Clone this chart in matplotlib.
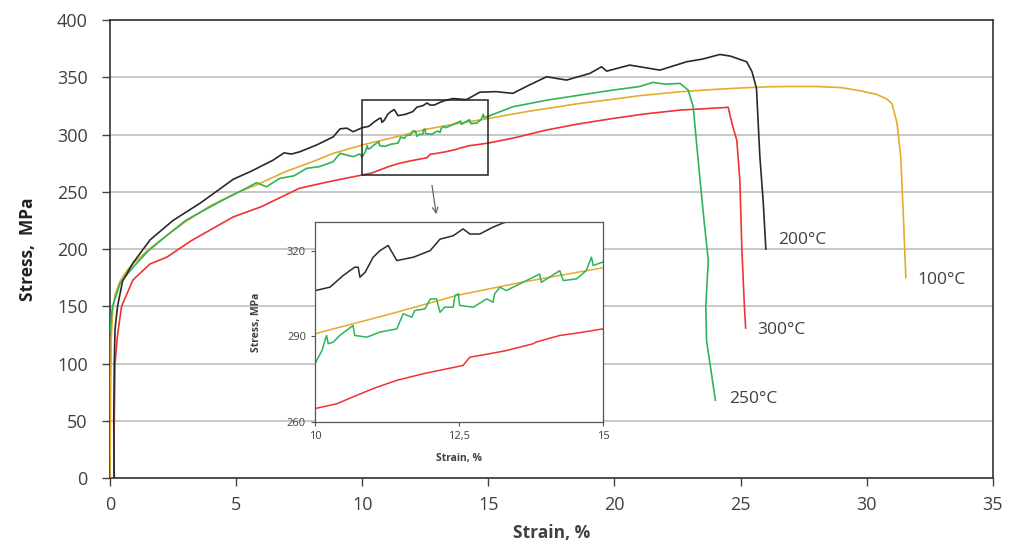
import matplotlib

matplotlib.use("Agg")
import matplotlib.pyplot as plt  # noqa: E402
from matplotlib.patches import Rectangle  # noqa: E402

# ---- data (strain %, stress MPa) ----
T100_X = [0, 0.02, 0.05, 0.1, 0.2, 0.4, 0.7, 1.0, 1.5, 2.26, 3.0, 3.57, 4.0, 5.0,
          5.81, 7.0, 8.0, 8.85, 10.0, 11.36, 12.46, 13.61, 15.0, 16.5, 18.63,
          20.0, 21.0, 22.6, 24.0, 25.0, 26.16, 27.0, 28.0, 29.0, 29.8, 30.4,
          30.8, 31.0, 31.2, 31.35, 31.45, 31.55]
T100_Y = [0, 60, 120, 145, 160, 172, 182, 189, 199, 212, 224, 232, 238, 249,
          256, 268, 276, 283.6, 290.9, 298.1, 304.3, 309, 314, 320, 327.2,
          331, 334, 337.4, 339.5, 340.7, 341.8, 342, 342, 341, 338, 335,
          331, 327, 310, 280, 230, 175]

T200_X = [0.17, 0.15, 0.17, 0.2, 0.3, 0.5, 0.91, 1.59, 2.5, 3.57, 4.2, 4.89,
          5.6, 6.47, 6.9, 7.2, 7.53, 8.2, 8.85, 9.12, 9.39, 9.64, 10.0, 10.26,
          10.49, 10.69, 10.75, 10.78, 10.87, 11.01, 11.13, 11.27, 11.42,
          11.71, 12.0, 12.17, 12.4, 12.57, 12.69, 12.86, 13.09, 13.27, 13.6,
          14.13, 14.66, 15.3, 15.97, 16.6, 17.31, 18.1, 19.02, 19.49, 19.69,
          20.6, 21.2, 21.8, 22.86, 23.5, 24.18, 24.6, 25.24, 25.45, 25.63,
          25.76, 25.9, 26.0]
T200_Y = [0, 50, 100, 130, 150, 172, 187.8, 208, 225, 240, 250, 261,
          268, 277.7, 284, 283, 285, 291, 298, 305, 305.6, 302.5, 306, 307.2,
          311.3, 314.2, 314.2, 310.7, 312.4, 317.7, 320, 321.8, 316.5,
          317.7, 320, 324, 325.2, 327.6, 325.8, 325.8, 328.2, 329.7, 331.5,
          330.5, 337, 337.5, 336, 343, 350.5, 347.6, 353.4, 359.2, 355.4,
          360.7, 358.5, 356.3, 363.6, 366, 370, 368.5, 363.6, 355, 340.3,
          282, 240, 200]

T250_X = [0.02, 0.05, 0.1, 0.27, 0.4, 0.91, 1.5, 2.26, 3.0, 3.57, 4.5, 5.3,
          5.81, 6.2, 6.73, 7.3, 7.8, 8.3, 8.85, 9.12, 9.64, 9.9, 10.0, 10.12,
          10.2, 10.23, 10.32, 10.43, 10.66, 10.69, 10.9, 11.13, 11.42, 11.53,
          11.68, 11.73, 11.91, 12.0, 12.11, 12.17, 12.25, 12.4, 12.43, 12.49,
          12.51, 12.75, 12.98, 13.09, 13.12, 13.21, 13.32, 13.61, 13.9,
          13.93, 14.25, 14.31, 14.54, 14.71, 14.8, 14.83, 15.0, 15.97, 17.31,
          18.63, 19.95, 21.0, 21.53, 22.0, 22.6, 22.92, 23.12, 23.35, 23.55,
          23.72, 23.62, 23.65, 24.0]
T250_Y = [128, 140, 150, 161, 170, 184, 198, 212, 225, 232, 243, 252,
          258, 254.4, 261.7, 264, 270.5, 272, 276.3, 283.6, 280.7, 283, 280.4,
          285, 290.3, 287.4, 288, 290.3, 293.8, 290.3, 289.7, 291.5, 292.6,
          297.9, 296.7, 299, 299.6, 303.1, 303.1, 298.4, 300.2, 300.2, 304.3,
          304.9, 300.8, 300.2, 303.1, 301.9, 304.9, 307.2, 306, 308.9, 311.8,
          308.9, 313, 309.5, 310.1, 313, 317.7, 314.8, 316, 324.3, 330,
          334.5, 338.9, 342, 345.6, 344, 344.7, 338.9, 324.3, 270, 225,
          190, 150, 120, 68]

T300_X = [0.15, 0.17, 0.2, 0.3, 0.46, 0.91, 1.59, 2.26, 3.2, 4.0, 4.88, 6.0,
          7.5, 8.5, 9.39, 10.0, 10.38, 10.72, 11.01, 11.42, 11.88, 12.57,
          12.69, 13.03, 13.32, 13.79, 13.84, 14.25, 14.54, 15.0, 16.0, 17.31,
          18.5, 19.95, 21.2, 22.6, 23.5, 24.51, 24.6, 24.71, 24.85, 24.97,
          25.05, 25.15, 25.2]
T300_Y = [0, 50, 100, 125, 150, 173, 187, 193, 207, 217, 228, 237,
          253, 258, 262, 264.7, 266.4, 269.3, 271.7, 274.6, 276.9, 279.8,
          282.7, 283.9, 285, 287.4, 288, 290.3, 291.1, 292.6, 297, 304,
          309, 314.1, 318, 321.4, 322.5, 323.8, 315, 305.4, 295, 260,
          200, 150, 131]

SERIES = [
    ("100°C", T100_X, T100_Y, "#e6aa2c", (32.0, 173)),
    ("300°C", T300_X, T300_Y, "#f03232", (25.65, 129)),
    ("250°C", T250_X, T250_Y, "#2fb457", (24.55, 69)),
    ("200°C", T200_X, T200_Y, "#2a2a2a", (26.5, 208)),
]

FONT = ["Open Sans", "DejaVu Sans"]
plt.rcParams["font.family"] = FONT
TXT = "#404040"

fig = plt.figure(figsize=(10.09, 5.43), dpi=100)
ax = fig.add_axes((0.109, 0.1197, 0.875, 0.8433))

for name, xs, ys, col, (lx, ly) in SERIES:
    ax.plot(xs, ys, color=col, lw=1.2, zorder=3)
    ax.text(lx, ly, name, color=TXT, fontsize=12.5, va="center", ha="left")

ax.set_xlim(0, 35)
ax.set_ylim(0, 400)
ax.set_xticks(range(0, 36, 5))
ax.set_yticks(range(0, 401, 50))
ax.grid(axis="y", color="#c8c8c8", lw=1.4, zorder=0)
ax.tick_params(direction="out", length=6, width=1, labelsize=13,
               labelcolor=TXT, color="#444444")
ax.tick_params(axis="y", pad=10)
ax.tick_params(axis="x", pad=7)
for s in ax.spines.values():
    s.set_color("#333333")
    s.set_linewidth(1.2)
ax.set_xlabel("Strain, %", fontsize=12.5, fontweight="bold", color=TXT,
              labelpad=7)
ax.set_ylabel("Stress,  MPa", fontsize=12.5, fontweight="bold",
              color="#222222", labelpad=14)

# zoom window and arrow
ax.add_patch(Rectangle((10, 265), 5, 65, fill=False, ec="#222222", lw=1.1,
                       zorder=5))
ax.annotate("", xy=(12.95, 228), xytext=(12.75, 258),
            arrowprops=dict(arrowstyle="->", color="#666666", lw=0.9))

# inset
ins = fig.add_axes((0.3122, 0.2228, 0.2854, 0.3683))
for name, xs, ys, col, _ in SERIES:
    ins.plot(xs, ys, color=col, lw=1.1)
ins.set_xlim(10, 15)
ins.set_ylim(260, 330)
ins.set_xticks([10, 12.5, 15])
ins.set_xticklabels(["10", "12,5", "15"])
ins.set_yticks([260, 290, 320])
ins.tick_params(direction="out", length=3, width=0.8, labelsize=8,
                labelcolor=TXT, color="#555555")
for s in ins.spines.values():
    s.set_color("#555555")
    s.set_linewidth(0.9)
ins.set_xlabel("Strain, %", fontsize=7.5, fontweight="bold", color=TXT,
               labelpad=8)
ins.set_ylabel("Stress, MPa", fontsize=7.5, fontweight="bold", color=TXT,
               labelpad=18)

fig.savefig("out.png", dpi=100)
